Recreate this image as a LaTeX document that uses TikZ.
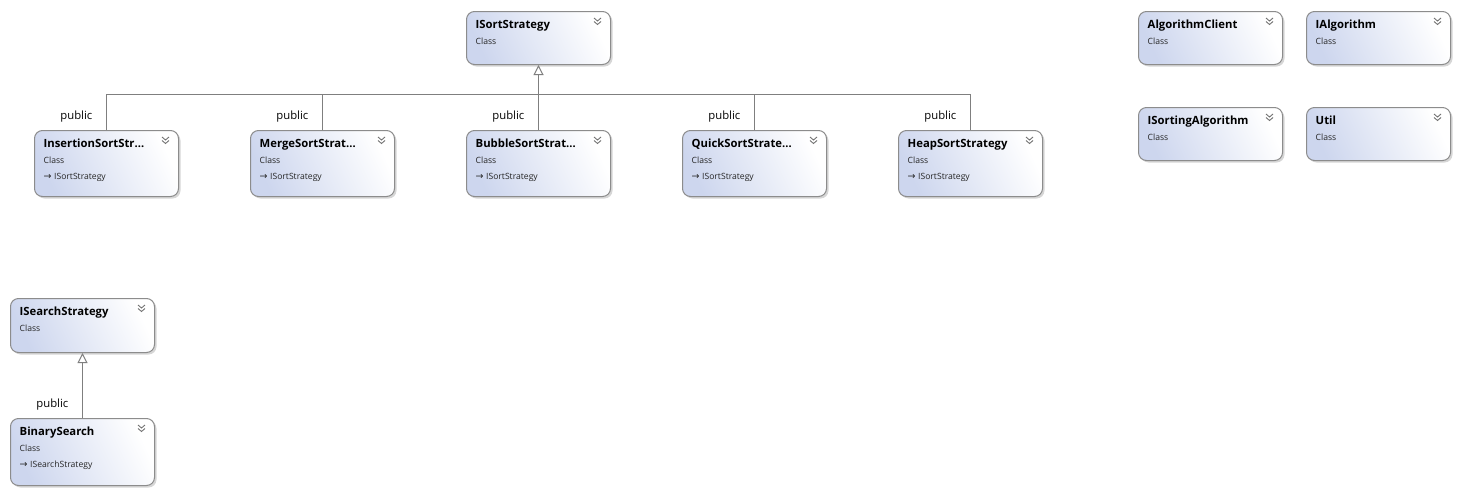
\documentclass[tikz,border=0pt]{standalone}
\usepackage{fontspec}
\setmainfont{Open Sans}
\newfontfamily\arrowfont{DejaVu Sans}
\usetikzlibrary{shadows,arrows.meta}
\definecolor{boxblue}{HTML}{CDD6EE}
\definecolor{boxline}{HTML}{8C8C8C}
\definecolor{connclr}{HTML}{7F7F7F}
\tikzset{
  clsbox/.style={draw=boxline, line width=1pt, rounded corners=8pt, minimum width=144pt, inner sep=0pt,
    left color=boxblue, right color=white, shading angle=115,
    drop shadow={shadow xshift=2pt, shadow yshift=-2pt, fill=black!35, opacity=0.45}},
  ttl/.style={font=\bfseries\fontsize{11.3}{13}\selectfont, anchor=base west, inner sep=0pt},
  subtxt/.style={font=\fontsize{8.6}{10}\selectfont, anchor=base west, inner sep=0pt, text=black!85},
  lbl/.style={font=\fontsize{11.3}{13}\selectfont, anchor=base east, inner sep=0pt},
  connline/.style={draw=connclr, line width=1pt},
  inh/.style={connline, -{Triangle[open, width=10pt, length=10pt, fill=white]}},
  chev/.style={draw=black!55, line width=0.9pt}
}
\newcommand{\umlbox}[5]{%
  \node[clsbox, minimum height=#4pt, anchor=north west] (#1) at (#2,#3) {};
  \node[ttl] (#1-t) at ([xshift=9.5pt,yshift=-17pt]#1.north west) {#5};
  \node[subtxt] (#1-c) at ([xshift=9.5pt,yshift=-33pt]#1.north west) {Class};
  \draw[chev] ([xshift=-17pt,yshift=-7pt]#1.north east) -- ++(3.5pt,-3pt) -- ++(3.5pt,3pt);
  \draw[chev] ([xshift=-17pt,yshift=-10.5pt]#1.north east) -- ++(3.5pt,-3pt) -- ++(3.5pt,3pt);
}
\newcommand{\implline}[2]{%
  \node[subtxt] (#1-i) at ([xshift=9.5pt,yshift=-49pt]#1.north west) {{\arrowfont\fontsize{9.5}{10}\selectfont →}\hspace{2.5pt}#2};
}
\begin{document}
\begin{tikzpicture}[x=1pt,y=-1pt]
\useasboundingbox (0,0) rectangle (1459,493);
\fill[white] (0,0) rectangle (1459,493);

\umlbox{iss}{466}{11}{53}{ISortStrategy}
\umlbox{ins}{34}{130}{66}{InsertionSortStr…}
\implline{ins}{ISortStrategy}
\umlbox{mer}{250}{130}{66}{MergeSortStrat…}
\implline{mer}{ISortStrategy}
\umlbox{bub}{466}{130}{66}{BubbleSortStrat…}
\implline{bub}{ISortStrategy}
\umlbox{qui}{682}{130}{66}{QuickSortStrate…}
\implline{qui}{ISortStrategy}
\umlbox{hea}{898}{130}{66}{HeapSortStrategy}
\implline{hea}{ISortStrategy}

\umlbox{ac}{1138}{11}{53}{AlgorithmClient}
\umlbox{ia}{1306}{11}{53}{IAlgorithm}
\umlbox{isa}{1138}{107}{53}{ISortingAlgorithm}
\umlbox{ut}{1306}{107}{53}{Util}

\umlbox{isr}{10}{298}{54}{ISearchStrategy}
\umlbox{bs}{10}{418}{67}{BinarySearch}
\implline{bs}{ISearchStrategy}

% inheritance tree
\coordinate (j) at (538,94);
\draw[connline] (ins.north) |- (j);
\draw[connline] (mer.north) |- (j);
\draw[connline] (qui.north) |- (j);
\draw[connline] (hea.north) |- (j);
\draw[inh] (bub.north) -- (iss.south);
\draw[inh] (bs.north) -- (isr.south);

\foreach \b in {ins,mer,bub,qui,hea,bs}
  \node[lbl] (\b-lbl) at ([xshift=-14pt,yshift=11pt]\b.north) {public};
\end{tikzpicture}
\end{document}
